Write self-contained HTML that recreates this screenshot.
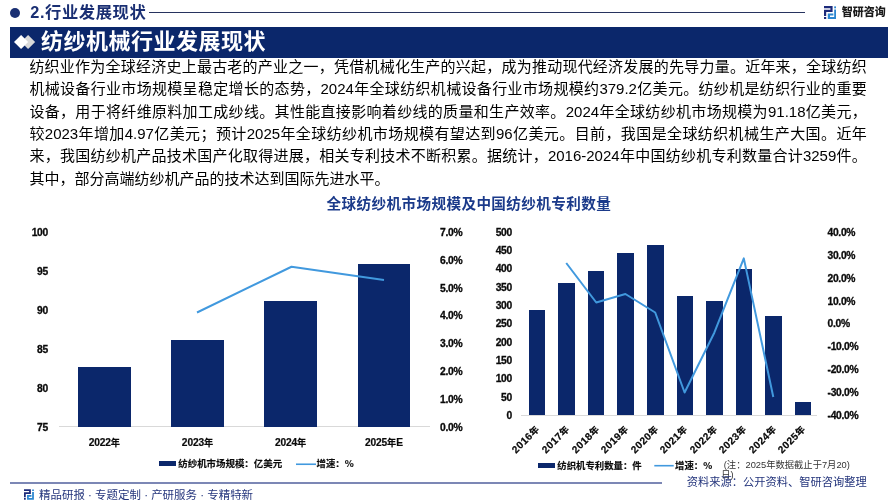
<!DOCTYPE html>
<html lang="zh-CN">
<head>
<meta charset="utf-8">
<title>纺纱机械行业发展现状</title>
<style>
html,body{margin:0;padding:0;background:#fff;}
body{width:896px;height:500px;position:relative;overflow:hidden;will-change:transform;font-family:"Liberation Sans", "Noto Sans CJK SC", sans-serif;}
.t{position:absolute;white-space:nowrap;font-family:"Liberation Sans", "Noto Sans CJK SC", sans-serif;}
.r{position:absolute;}
.para{position:absolute;left:29.4px;top:55.9px;width:837.4px;font-size:15px;color:#000;}
.pl{height:22.4px;line-height:22.4px;text-align:justify;text-align-last:justify;white-space:nowrap;}
.pl.last{text-align:left;text-align-last:left;}
.d{font-size:10.2px;letter-spacing:-0.15px;}
.c{font-size:9.2px;}
.rd{letter-spacing:0.45px;}
.rot{font-weight:bold;color:#0a0a0a;-webkit-text-stroke:0.2px #0a0a0a;line-height:12px;height:12px;transform-origin:100% 50%;transform:rotate(-45deg);}
</style>
</head>
<body>
<div class="r" style="left:10px;top:7.5px;width:10px;height:10px;border-radius:50%;background:#1a2f73"></div>
<div class="t" style="left:30.3px;top:1.49px;height:22.82px;line-height:22.82px;font-size:16.3px;font-weight:bold;color:#1a2f73;letter-spacing:0.6px;">2.行业发展现状</div>
<div class="r" style="left:148.5px;top:11.75px;width:656.50px;height:1.00px;background:#27335f"></div>
<svg class="r" style="left:823.6px;top:6.2px" width="12.4" height="13.2" viewBox="0 0 12.4 13.2"><path d="M0 0H8.6V6H2.2V10H0V3.8H6.4V2.2H0Z" fill="#1c2a7a"/>
<rect x="0" y="11" width="2.2" height="2.2" fill="#1c2a7a"/>
<rect x="10.2" y="0.4" width="2.2" height="1.9" fill="#2b86d0"/>
<path d="M10.2 3.6H12.4V13.2H3.8V7.4H9.4V9.4H6V11H10.2Z" fill="#2b86d0"/></svg>
<div class="t" style="left:841.8px;top:4.60px;height:15.4px;line-height:15.4px;font-size:11px;font-weight:900;color:#1a1a1a;letter-spacing:-0.05px;">智研咨询</div>
<div class="r" style="left:10px;top:26.8px;width:878.00px;height:30.80px;background:#0b276b"></div>
<div class="r" style="left:22.65px;top:37.4px;width:10.2px;height:10.2px;background:#d9d9d9;transform:rotate(45deg)"></div>
<div class="r" style="left:15.5px;top:37.4px;width:10.2px;height:10.2px;background:#fff;transform:rotate(45deg)"></div>
<div class="t" style="left:41.0px;top:27.10px;height:30.8px;line-height:30.8px;font-size:22px;font-weight:bold;color:#fff;letter-spacing:0.5px;">纺纱机械行业发展现状</div>
<div class="para">
<div class="pl">纺织业作为全球经济史上最古老的产业之一，凭借机械化生产的兴起，成为推动现代经济发展的先导力量。近年来，全球纺织</div>
<div class="pl">机械设备行业市场规模呈稳定增长的态势，2024年全球纺织机械设备行业市场规模约379.2亿美元。纺纱机是纺织行业的重要</div>
<div class="pl">设备，用于将纤维原料加工成纱线。其性能直接影响着纱线的质量和生产效率。2024年全球纺纱机市场规模为91.18亿美元，</div>
<div class="pl">较2023年增加4.97亿美元；预计2025年全球纺纱机市场规模有望达到96亿美元。目前，我国是全球纺织机械生产大国。近年</div>
<div class="pl">来，我国纺纱机产品技术国产化取得进展，相关专利技术不断积累。据统计，2016-2024年中国纺纱机专利数量合计3259件。</div>
<div class="pl last">其中，部分高端纺纱机产品的技术达到国际先进水平。</div>
</div>
<div class="t" style="left:318.9px;width:300px;text-align:center;top:193.98px;height:20.44px;line-height:20.44px;font-size:14.6px;font-weight:bold;color:#1b3a8a;letter-spacing:0.4px;">全球纺纱机市场规模及中国纺纱机专利数量</div>
<div class="t" style="right:848.1px;top:225.89px;height:14.42px;line-height:14.42px;font-size:10.3px;font-weight:bold;color:#0a0a0a;letter-spacing:-0.3px;-webkit-text-stroke:0.3px #0a0a0a;">100</div>
<div class="t" style="right:848.1px;top:264.89px;height:14.42px;line-height:14.42px;font-size:10.3px;font-weight:bold;color:#0a0a0a;letter-spacing:-0.3px;-webkit-text-stroke:0.3px #0a0a0a;">95</div>
<div class="t" style="right:848.1px;top:303.89px;height:14.42px;line-height:14.42px;font-size:10.3px;font-weight:bold;color:#0a0a0a;letter-spacing:-0.3px;-webkit-text-stroke:0.3px #0a0a0a;">90</div>
<div class="t" style="right:848.1px;top:342.89px;height:14.42px;line-height:14.42px;font-size:10.3px;font-weight:bold;color:#0a0a0a;letter-spacing:-0.3px;-webkit-text-stroke:0.3px #0a0a0a;">85</div>
<div class="t" style="right:848.1px;top:381.89px;height:14.42px;line-height:14.42px;font-size:10.3px;font-weight:bold;color:#0a0a0a;letter-spacing:-0.3px;-webkit-text-stroke:0.3px #0a0a0a;">80</div>
<div class="t" style="right:848.1px;top:420.89px;height:14.42px;line-height:14.42px;font-size:10.3px;font-weight:bold;color:#0a0a0a;letter-spacing:-0.3px;-webkit-text-stroke:0.3px #0a0a0a;">75</div>
<div class="t" style="left:440px;top:226.09px;height:14.42px;line-height:14.42px;font-size:10.3px;font-weight:bold;color:#0a0a0a;letter-spacing:-0.3px;-webkit-text-stroke:0.3px #0a0a0a;">7.0%</div>
<div class="t" style="left:440px;top:253.89px;height:14.42px;line-height:14.42px;font-size:10.3px;font-weight:bold;color:#0a0a0a;letter-spacing:-0.3px;-webkit-text-stroke:0.3px #0a0a0a;">6.0%</div>
<div class="t" style="left:440px;top:281.69px;height:14.42px;line-height:14.42px;font-size:10.3px;font-weight:bold;color:#0a0a0a;letter-spacing:-0.3px;-webkit-text-stroke:0.3px #0a0a0a;">5.0%</div>
<div class="t" style="left:440px;top:309.49px;height:14.42px;line-height:14.42px;font-size:10.3px;font-weight:bold;color:#0a0a0a;letter-spacing:-0.3px;-webkit-text-stroke:0.3px #0a0a0a;">4.0%</div>
<div class="t" style="left:440px;top:337.29px;height:14.42px;line-height:14.42px;font-size:10.3px;font-weight:bold;color:#0a0a0a;letter-spacing:-0.3px;-webkit-text-stroke:0.3px #0a0a0a;">3.0%</div>
<div class="t" style="left:440px;top:365.09px;height:14.42px;line-height:14.42px;font-size:10.3px;font-weight:bold;color:#0a0a0a;letter-spacing:-0.3px;-webkit-text-stroke:0.3px #0a0a0a;">2.0%</div>
<div class="t" style="left:440px;top:392.89px;height:14.42px;line-height:14.42px;font-size:10.3px;font-weight:bold;color:#0a0a0a;letter-spacing:-0.3px;-webkit-text-stroke:0.3px #0a0a0a;">1.0%</div>
<div class="t" style="left:440px;top:420.69px;height:14.42px;line-height:14.42px;font-size:10.3px;font-weight:bold;color:#0a0a0a;letter-spacing:-0.3px;-webkit-text-stroke:0.3px #0a0a0a;">0.0%</div>
<div class="r" style="left:58.75px;top:426.3px;width:371.25px;height:1.00px;background:#d9d9d9"></div>
<div class="r" style="left:78.25px;top:366.5px;width:52.50px;height:60.10px;background:#0b276b"></div>
<div class="r" style="left:171.25px;top:339.5px;width:52.50px;height:87.10px;background:#0b276b"></div>
<div class="r" style="left:264px;top:301.25px;width:53.25px;height:125.35px;background:#0b276b"></div>
<div class="r" style="left:357.75px;top:263.75px;width:52.50px;height:162.85px;background:#0b276b"></div>
<div class="t" style="left:-45.599999999999994px;width:300px;text-align:center;top:436.34px;height:13.72px;line-height:13.72px;font-size:9.8px;font-weight:bold;color:#0a0a0a;-webkit-text-stroke:0.2px #0a0a0a;"><span class="d">2022</span><span class="c">年</span></div>
<div class="t" style="left:47.5px;width:300px;text-align:center;top:436.34px;height:13.72px;line-height:13.72px;font-size:9.8px;font-weight:bold;color:#0a0a0a;-webkit-text-stroke:0.2px #0a0a0a;"><span class="d">2023</span><span class="c">年</span></div>
<div class="t" style="left:140.60000000000002px;width:300px;text-align:center;top:436.34px;height:13.72px;line-height:13.72px;font-size:9.8px;font-weight:bold;color:#0a0a0a;-webkit-text-stroke:0.2px #0a0a0a;"><span class="d">2024</span><span class="c">年</span></div>
<div class="t" style="left:234px;width:300px;text-align:center;top:436.34px;height:13.72px;line-height:13.72px;font-size:9.8px;font-weight:bold;color:#0a0a0a;-webkit-text-stroke:0.2px #0a0a0a;"><span class="d">2025</span><span class="c">年</span><span class="d">E</span></div>
<div class="r" style="left:158.75px;top:461.25px;width:17.50px;height:5.00px;background:#0b276b"></div>
<div class="t" style="left:178.25px;top:457.13px;height:13.23px;line-height:13.23px;font-size:9.45px;font-weight:bold;color:#0a0a0a;font-family:'Noto Sans CJK SC','Liberation Sans',sans-serif;-webkit-text-stroke:0.15px #0a0a0a;">纺纱机市场规模：亿美元</div>
<div class="t" style="left:316.5px;top:457.17px;height:13.16px;line-height:13.16px;font-size:9.4px;font-weight:bold;color:#0a0a0a;font-family:'Noto Sans CJK SC','Liberation Sans',sans-serif;-webkit-text-stroke:0.15px #0a0a0a;">增速：%</div>
<div class="t" style="right:384.1px;top:225.89px;height:14.42px;line-height:14.42px;font-size:10.3px;font-weight:bold;color:#0a0a0a;letter-spacing:-0.3px;-webkit-text-stroke:0.3px #0a0a0a;">500</div>
<div class="t" style="right:384.1px;top:244.19px;height:14.42px;line-height:14.42px;font-size:10.3px;font-weight:bold;color:#0a0a0a;letter-spacing:-0.3px;-webkit-text-stroke:0.3px #0a0a0a;">450</div>
<div class="t" style="right:384.1px;top:262.49px;height:14.42px;line-height:14.42px;font-size:10.3px;font-weight:bold;color:#0a0a0a;letter-spacing:-0.3px;-webkit-text-stroke:0.3px #0a0a0a;">400</div>
<div class="t" style="right:384.1px;top:280.79px;height:14.42px;line-height:14.42px;font-size:10.3px;font-weight:bold;color:#0a0a0a;letter-spacing:-0.3px;-webkit-text-stroke:0.3px #0a0a0a;">350</div>
<div class="t" style="right:384.1px;top:299.09px;height:14.42px;line-height:14.42px;font-size:10.3px;font-weight:bold;color:#0a0a0a;letter-spacing:-0.3px;-webkit-text-stroke:0.3px #0a0a0a;">300</div>
<div class="t" style="right:384.1px;top:317.39px;height:14.42px;line-height:14.42px;font-size:10.3px;font-weight:bold;color:#0a0a0a;letter-spacing:-0.3px;-webkit-text-stroke:0.3px #0a0a0a;">250</div>
<div class="t" style="right:384.1px;top:335.69px;height:14.42px;line-height:14.42px;font-size:10.3px;font-weight:bold;color:#0a0a0a;letter-spacing:-0.3px;-webkit-text-stroke:0.3px #0a0a0a;">200</div>
<div class="t" style="right:384.1px;top:353.99px;height:14.42px;line-height:14.42px;font-size:10.3px;font-weight:bold;color:#0a0a0a;letter-spacing:-0.3px;-webkit-text-stroke:0.3px #0a0a0a;">150</div>
<div class="t" style="right:384.1px;top:372.29px;height:14.42px;line-height:14.42px;font-size:10.3px;font-weight:bold;color:#0a0a0a;letter-spacing:-0.3px;-webkit-text-stroke:0.3px #0a0a0a;">100</div>
<div class="t" style="right:384.1px;top:390.59px;height:14.42px;line-height:14.42px;font-size:10.3px;font-weight:bold;color:#0a0a0a;letter-spacing:-0.3px;-webkit-text-stroke:0.3px #0a0a0a;">50</div>
<div class="t" style="right:384.1px;top:408.89px;height:14.42px;line-height:14.42px;font-size:10.3px;font-weight:bold;color:#0a0a0a;letter-spacing:-0.3px;-webkit-text-stroke:0.3px #0a0a0a;">0</div>
<div class="t" style="left:827.5px;top:225.89px;height:14.42px;line-height:14.42px;font-size:10.3px;font-weight:bold;color:#0a0a0a;letter-spacing:-0.3px;-webkit-text-stroke:0.3px #0a0a0a;">40.0%</div>
<div class="t" style="left:827.5px;top:248.79px;height:14.42px;line-height:14.42px;font-size:10.3px;font-weight:bold;color:#0a0a0a;letter-spacing:-0.3px;-webkit-text-stroke:0.3px #0a0a0a;">30.0%</div>
<div class="t" style="left:827.5px;top:271.69px;height:14.42px;line-height:14.42px;font-size:10.3px;font-weight:bold;color:#0a0a0a;letter-spacing:-0.3px;-webkit-text-stroke:0.3px #0a0a0a;">20.0%</div>
<div class="t" style="left:827.5px;top:294.59px;height:14.42px;line-height:14.42px;font-size:10.3px;font-weight:bold;color:#0a0a0a;letter-spacing:-0.3px;-webkit-text-stroke:0.3px #0a0a0a;">10.0%</div>
<div class="t" style="left:827.5px;top:317.49px;height:14.42px;line-height:14.42px;font-size:10.3px;font-weight:bold;color:#0a0a0a;letter-spacing:-0.3px;-webkit-text-stroke:0.3px #0a0a0a;">0.0%</div>
<div class="t" style="left:827.5px;top:340.39px;height:14.42px;line-height:14.42px;font-size:10.3px;font-weight:bold;color:#0a0a0a;letter-spacing:-0.3px;-webkit-text-stroke:0.3px #0a0a0a;">-10.0%</div>
<div class="t" style="left:827.5px;top:363.29px;height:14.42px;line-height:14.42px;font-size:10.3px;font-weight:bold;color:#0a0a0a;letter-spacing:-0.3px;-webkit-text-stroke:0.3px #0a0a0a;">-20.0%</div>
<div class="t" style="left:827.5px;top:386.19px;height:14.42px;line-height:14.42px;font-size:10.3px;font-weight:bold;color:#0a0a0a;letter-spacing:-0.3px;-webkit-text-stroke:0.3px #0a0a0a;">-30.0%</div>
<div class="t" style="left:827.5px;top:409.09px;height:14.42px;line-height:14.42px;font-size:10.3px;font-weight:bold;color:#0a0a0a;letter-spacing:-0.3px;-webkit-text-stroke:0.3px #0a0a0a;">-40.0%</div>
<div class="r" style="left:521px;top:414.6px;width:296.00px;height:1.00px;background:#d9d9d9"></div>
<div class="r" style="left:528.8px;top:310px;width:16.60px;height:105.00px;background:#0b276b"></div>
<div class="r" style="left:558.35px;top:282.5px;width:16.60px;height:132.50px;background:#0b276b"></div>
<div class="r" style="left:587.9px;top:270.75px;width:16.60px;height:144.25px;background:#0b276b"></div>
<div class="r" style="left:617.45px;top:252.5px;width:16.60px;height:162.50px;background:#0b276b"></div>
<div class="r" style="left:647.0px;top:245px;width:16.60px;height:170.00px;background:#0b276b"></div>
<div class="r" style="left:676.55px;top:296.25px;width:16.60px;height:118.75px;background:#0b276b"></div>
<div class="r" style="left:706.1px;top:301.25px;width:16.60px;height:113.75px;background:#0b276b"></div>
<div class="r" style="left:735.65px;top:268.75px;width:16.60px;height:146.25px;background:#0b276b"></div>
<div class="r" style="left:765.2px;top:315.75px;width:16.60px;height:99.25px;background:#0b276b"></div>
<div class="r" style="left:794.75px;top:401.75px;width:16.60px;height:13.25px;background:#0b276b"></div>
<div class="t rot" style="right:357.90px;top:421.50px;font-size:10.2px;"><span class="rd">2016</span><span class="c">年</span></div>
<div class="t rot" style="right:328.35px;top:421.50px;font-size:10.2px;"><span class="rd">2017</span><span class="c">年</span></div>
<div class="t rot" style="right:298.80px;top:421.50px;font-size:10.2px;"><span class="rd">2018</span><span class="c">年</span></div>
<div class="t rot" style="right:269.25px;top:421.50px;font-size:10.2px;"><span class="rd">2019</span><span class="c">年</span></div>
<div class="t rot" style="right:239.70px;top:421.50px;font-size:10.2px;"><span class="rd">2020</span><span class="c">年</span></div>
<div class="t rot" style="right:210.15px;top:421.50px;font-size:10.2px;"><span class="rd">2021</span><span class="c">年</span></div>
<div class="t rot" style="right:180.60px;top:421.50px;font-size:10.2px;"><span class="rd">2022</span><span class="c">年</span></div>
<div class="t rot" style="right:151.05px;top:421.50px;font-size:10.2px;"><span class="rd">2023</span><span class="c">年</span></div>
<div class="t rot" style="right:121.50px;top:421.50px;font-size:10.2px;"><span class="rd">2024</span><span class="c">年</span></div>
<div class="t rot" style="right:91.95px;top:421.50px;font-size:10.2px;"><span class="rd">2025</span><span class="c">年</span></div>
<div class="r" style="left:537.5px;top:463px;width:17.50px;height:5.00px;background:#0b276b"></div>
<div class="t" style="left:557.25px;top:458.92px;height:13.16px;line-height:13.16px;font-size:9.4px;font-weight:bold;color:#0a0a0a;font-family:'Noto Sans CJK SC','Liberation Sans',sans-serif;-webkit-text-stroke:0.15px #0a0a0a;">纺织机专利数量：件</div>
<div class="t" style="left:675px;top:458.92px;height:13.16px;line-height:13.16px;font-size:9.4px;font-weight:bold;color:#0a0a0a;font-family:'Noto Sans CJK SC','Liberation Sans',sans-serif;-webkit-text-stroke:0.15px #0a0a0a;">增速：%</div>
<div class="t" style="left:721.2px;top:461.3px;width:134px;font-size:9.3px;line-height:9.2px;color:#333;white-space:normal;">&nbsp;(注：2025年数据截止于7月20)<br>日)</div>
<div class="t" style="right:29.200000000000045px;top:474.62px;height:15.75px;line-height:15.75px;font-size:11.25px;font-weight:normal;color:#24357c;">资料来源：公开资料、智研咨询整理</div>
<svg class="r" style="left:0;top:0" width="896" height="500" viewBox="0 0 896 500">
<polyline points="197,312.5 291.5,266.75 384,280" fill="none" stroke="#4199de" stroke-width="2" stroke-linejoin="round"/>
<polyline points="566.25,263 596.25,302.5 625.4,294 655.2,312.5 684.6,392.5 714.3,332.7 743.8,258.4 773.3,397" fill="none" stroke="#4199de" stroke-width="2" stroke-linejoin="round"/>
<line x1="296" y1="464.25" x2="316" y2="464.25" stroke="#4199de" stroke-width="1.6"/>
<line x1="654.3" y1="465.7" x2="673.7" y2="465.7" stroke="#4199de" stroke-width="1.6"/>
</svg>
<div class="r" style="left:10px;top:482.4px;width:651.75px;height:1.20px;background:#7c87b5"></div>
<svg class="r" style="left:24.3px;top:489.1px" width="9.9" height="10.9" viewBox="0 0 12.4 13.2"><path d="M0 0H8.6V6H2.2V10H0V3.8H6.4V2.2H0Z" fill="#1c2a7a"/>
<rect x="0" y="11" width="2.2" height="2.2" fill="#1c2a7a"/>
<rect x="10.2" y="0.4" width="2.2" height="1.9" fill="#2b86d0"/>
<path d="M10.2 3.6H12.4V13.2H3.8V7.4H9.4V9.4H6V11H10.2Z" fill="#2b86d0"/></svg>
<div class="t" style="left:39px;top:486.86px;height:16.07px;line-height:16.07px;font-size:11.48px;font-weight:normal;color:#24357c;">精品研报 · 专题定制 · 产研服务 · 专精特新</div>
</body>
</html>
